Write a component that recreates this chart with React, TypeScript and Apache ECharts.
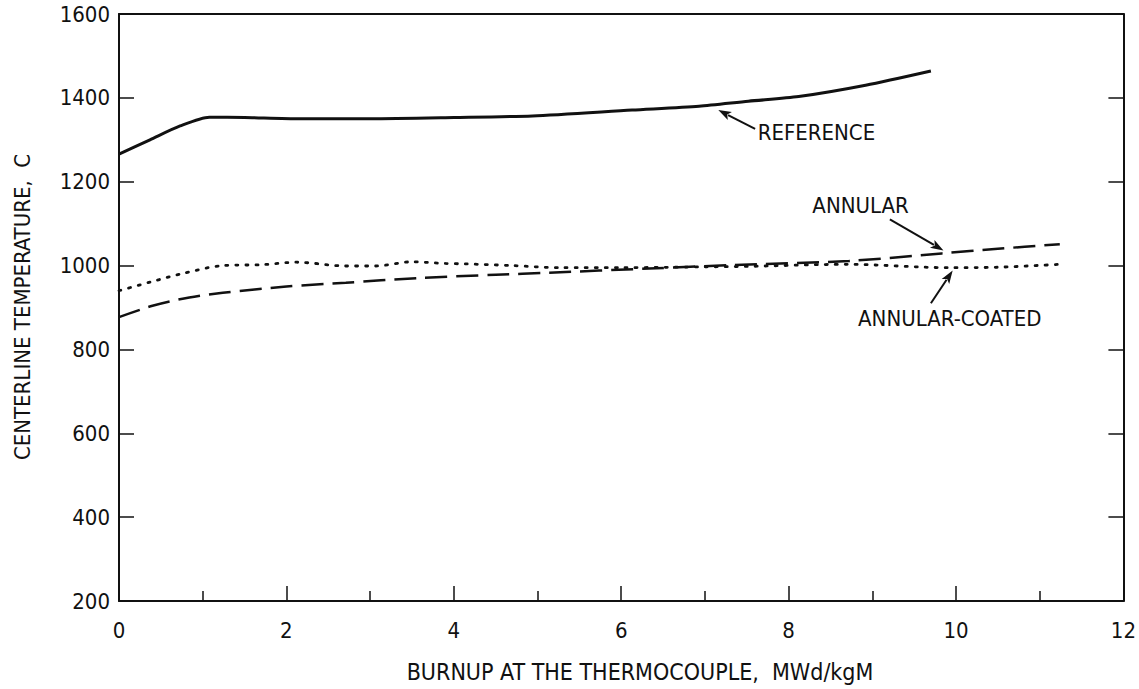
import React, { useEffect, useRef } from "react";
import * as echarts from "echarts";

const X_MIN = 0;
const X_MAX = 12;
const X_STEP = 2;
const Y_MIN = 200;
const Y_MAX = 1600;
const Y_STEP = 200;

const X_TITLE = "BURNUP AT THE THERMOCOUPLE,  MWd/kgM";
const Y_TITLE = "CENTERLINE TEMPERATURE,  C";

const REF_X = [0, 0.37, 0.73, 1.08, 1.5, 2.16, 3, 4, 4.94, 6.13, 6.93, 7.52, 8.12, 8.92, 9.7];
const REF_Y = [1266, 1300, 1333, 1354, 1353, 1350, 1350, 1353, 1357, 1371, 1380, 1392, 1403, 1430, 1464];

const ANN_X = [0, 0.4, 0.84, 1.24, 2.0, 2.71, 3.55, 4.5, 5.14, 6.33, 7.32, 8.72, 9.83, 10.5, 11.24];
const ANN_Y = [877, 904, 924, 935, 950, 959, 970, 978, 983, 993, 1001, 1011, 1029, 1040, 1051];

const COAT_X = [0, 0.38, 0.76, 1.24, 1.7, 2.12, 2.71, 3.07, 3.5, 3.9, 4.14, 4.7, 5.26, 6, 7, 7.5, 8.7, 9.9, 10.5, 11.24];
const COAT_Y = [940, 961, 981, 1000, 1002, 1008, 999, 999, 1009, 1005, 1004, 1000, 995, 995, 997, 998, 1003, 995, 996, 1003];

const LABEL_TEXT = ["REFERENCE", "ANNULAR", "ANNULAR-COATED"];
const LABEL_POS = [[7.63, 1317], [8.86, 1143], [8.83, 874]];
const LABEL_ALIGN = ["left", "center", "left"];
const ARROW_FROM = [[7.6, 1326], [9.21, 1110], [9.7, 910]];
const ARROW_TO = [[7.16, 1371], [9.85, 1036], [9.96, 988]];

const FONT = "'Liberation Sans Narrow', 'DejaVu Sans Condensed', 'Arial Narrow', sans-serif";

const pairs = (xs: number[], ys: number[]) => xs.map((x, i) => [x, ys[i]]);

export default function App() {
  const ref = useRef<HTMLDivElement>(null);
  useEffect(() => {
    document.body.style.margin = "0";
    const chart = echarts.init(ref.current!, null, { renderer: "svg" });
    const axisLine = () => ({ show: true, onZero: false, lineStyle: { color: "#111", width: 2 } });
    const yTick = () => ({ show: true, inside: true, length: 15, lineStyle: { color: "#111", width: 1.5 } });
    chart.setOption({
      animation: false,
      backgroundColor: "#fff",
      grid: { left: 119, right: 13, top: 14, bottom: 88 },
      xAxis: [
        {
          type: "value",
          min: X_MIN,
          max: X_MAX,
          interval: X_STEP,
          position: "bottom",
          axisLine: axisLine(),
          axisTick: { show: true, inside: true, length: 15, lineStyle: { color: "#111", width: 1.5 } },
          minorTick: { show: true, splitNumber: 2, length: 10, lineStyle: { color: "#111", width: 1.5 } },
          splitLine: { show: false },
          axisLabel: { color: "#111", fontSize: 22, fontFamily: FONT, margin: 18 },
        },
        {
          type: "value",
          min: X_MIN,
          max: X_MAX,
          position: "top",
          axisLine: axisLine(),
          axisTick: { show: false },
          axisLabel: { show: false },
          splitLine: { show: false },
        },
      ],
      yAxis: [
        {
          type: "value",
          min: Y_MIN,
          max: Y_MAX,
          interval: Y_STEP,
          position: "left",
          axisLine: axisLine(),
          axisTick: yTick(),
          splitLine: { show: false },
          axisLabel: {
            color: "#111",
            fontSize: 22,
            fontFamily: FONT,
            margin: 9,
            formatter: (v: number) => String(v),
          },
        },
        {
          type: "value",
          min: Y_MIN,
          max: Y_MAX,
          interval: Y_STEP,
          position: "right",
          axisLine: axisLine(),
          axisTick: yTick(),
          splitLine: { show: false },
          axisLabel: { show: false },
        },
      ],
      series: [
        {
          name: "REFERENCE",
          type: "line",
          data: pairs(REF_X, REF_Y),
          showSymbol: false,
          smooth: 0.25,
          lineStyle: { color: "#111", width: 3 },
        },
        {
          name: "ANNULAR",
          type: "line",
          data: pairs(ANN_X, ANN_Y),
          showSymbol: false,
          smooth: 0.3,
          lineStyle: { color: "#111", width: 2.5, type: [22, 9] },
        },
        {
          name: "ANNULAR-COATED",
          type: "line",
          data: pairs(COAT_X, COAT_Y),
          showSymbol: false,
          smooth: 0.3,
          lineStyle: { color: "#111", width: 2.8, type: [2, 8], cap: "round" },
        },
      ],
    });

    const toPx = (p: number[]) => chart.convertToPixel({ xAxisIndex: 0, yAxisIndex: 0 }, p) as number[];
    const graphic: any[] = [
      {
        type: "text",
        x: 22,
        y: 307,
        rotation: Math.PI / 2,
        style: { text: Y_TITLE, fill: "#111", fontSize: 22, fontFamily: FONT, align: "center", verticalAlign: "middle" },
      },
      {
        type: "text",
        x: 640,
        y: 672,
        style: { text: X_TITLE, fill: "#111", fontSize: 23, fontFamily: FONT, align: "center", verticalAlign: "middle" },
      },
    ];
    LABEL_TEXT.forEach((t, i) => {
      const [tx, ty] = toPx(LABEL_POS[i]);
      graphic.push({
        type: "text",
        x: tx,
        y: ty,
        style: { text: t, fill: "#111", fontSize: 22, fontFamily: FONT, align: LABEL_ALIGN[i], verticalAlign: "middle" },
      });
      const [fx, fy] = toPx(ARROW_FROM[i]);
      const [ax, ay] = toPx(ARROW_TO[i]);
      const dx = ax - fx;
      const dy = ay - fy;
      const len = Math.sqrt(dx * dx + dy * dy);
      const ux = dx / len;
      const uy = dy / len;
      const hl = 13;
      const hw = 4.5;
      const bx = ax - ux * hl;
      const by = ay - uy * hl;
      graphic.push({
        type: "line",
        shape: { x1: fx, y1: fy, x2: bx + ux * 2, y2: by + uy * 2 },
        style: { stroke: "#111", lineWidth: 2 },
      });
      graphic.push({
        type: "polygon",
        shape: {
          points: [
            [ax, ay],
            [bx - uy * hw, by + ux * hw],
            [bx + ux * 3, by + uy * 3],
            [bx + uy * hw, by - ux * hw],
          ],
        },
        style: { fill: "#111" },
      });
    });
    chart.setOption({ graphic });
    return () => chart.dispose();
  }, []);
  return <div ref={ref} style={{ width: 1139, height: 689 }} />;
}
